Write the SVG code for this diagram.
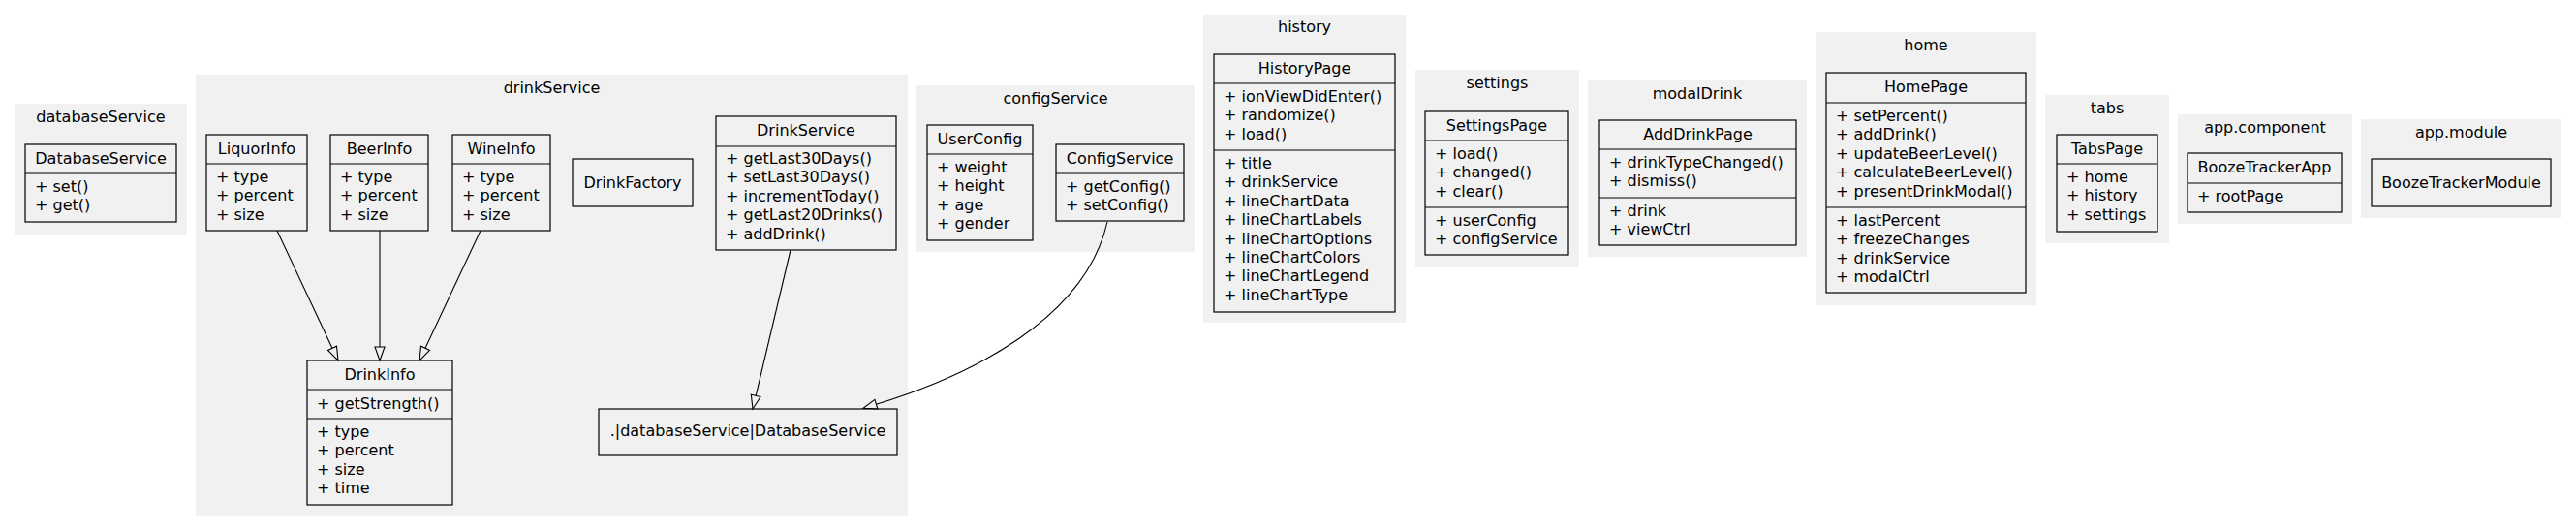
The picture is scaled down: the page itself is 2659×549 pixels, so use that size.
<svg xmlns="http://www.w3.org/2000/svg" width="2659" height="549" viewBox="0 0 2659 549">
<style>
.cl{fill:#f1f1f1;stroke:none}
.nd{fill:none;stroke:#000;stroke-width:1.2}
.sp{stroke:#000;stroke-width:1.2}
text{font-family:"DejaVu Sans","Liberation Sans",sans-serif;font-size:16px;fill:#000}
.c{text-anchor:middle}
.e{fill:none;stroke:#000;stroke-width:1.1}
</style>
<defs>
<marker id="tri" markerUnits="userSpaceOnUse" markerWidth="18" markerHeight="14" viewBox="-2 -7 18 14" refX="0" refY="0" orient="auto">
<path d="M0,-5 L14,0 L0,5 Z" fill="none" stroke="#000" stroke-width="1.1"/>
</marker>
</defs>
<rect width="2659" height="549" fill="#fff"/>

<g id="cluster_databaseService">
<rect class="cl" x="15" y="107" width="178" height="135"/>
<text class="c" x="104" y="126">databaseService</text>
</g>
<g id="cluster_drinkService">
<rect class="cl" x="202" y="77" width="735" height="456"/>
<text class="c" x="569.5" y="96">drinkService</text>
</g>
<g id="cluster_configService">
<rect class="cl" x="946" y="88" width="287" height="172"/>
<text class="c" x="1089.5" y="107">configService</text>
</g>
<g id="cluster_history">
<rect class="cl" x="1242" y="15" width="209" height="318"/>
<text class="c" x="1346.5" y="33">history</text>
</g>
<g id="cluster_settings">
<rect class="cl" x="1461" y="72" width="169" height="204"/>
<text class="c" x="1545.5" y="91">settings</text>
</g>
<g id="cluster_modalDrink">
<rect class="cl" x="1639" y="83" width="226" height="182"/>
<text class="c" x="1752" y="102">modalDrink</text>
</g>
<g id="cluster_home">
<rect class="cl" x="1874" y="33" width="228" height="282"/>
<text class="c" x="1988" y="52">home</text>
</g>
<g id="cluster_tabs">
<rect class="cl" x="2111" y="98" width="128" height="153"/>
<text class="c" x="2175" y="117">tabs</text>
</g>
<g id="cluster_appcomponent">
<rect class="cl" x="2248" y="118" width="180" height="113"/>
<text class="c" x="2338" y="137">app.component</text>
</g>
<g id="cluster_appmodule">
<rect class="cl" x="2437" y="123" width="207" height="102"/>
<text class="c" x="2540.5" y="142">app.module</text>
</g>

<g id="DatabaseService">
<rect class="nd" x="26" y="149" width="156" height="80"/>
<line class="sp" x1="26" y1="179" x2="182" y2="179"/>
<text class="c" x="104" y="168.5">DatabaseService</text>
<text x="36" y="198">+ set()</text>
<text x="36" y="217.4">+ get()</text>
</g>

<g id="LiquorInfo">
<rect class="nd" x="213" y="139" width="104" height="99"/>
<line class="sp" x1="213" y1="169" x2="317" y2="169"/>
<text class="c" x="265" y="158.5">LiquorInfo</text>
<text x="223" y="188">+ type</text>
<text x="223" y="207.4">+ percent</text>
<text x="223" y="226.8">+ size</text>
</g>
<g id="BeerInfo">
<rect class="nd" x="341" y="139" width="101" height="99"/>
<line class="sp" x1="341" y1="169" x2="442" y2="169"/>
<text class="c" x="391.5" y="158.5">BeerInfo</text>
<text x="351" y="188">+ type</text>
<text x="351" y="207.4">+ percent</text>
<text x="351" y="226.8">+ size</text>
</g>
<g id="WineInfo">
<rect class="nd" x="467" y="139" width="101" height="99"/>
<line class="sp" x1="467" y1="169" x2="568" y2="169"/>
<text class="c" x="517.5" y="158.5">WineInfo</text>
<text x="477" y="188">+ type</text>
<text x="477" y="207.4">+ percent</text>
<text x="477" y="226.8">+ size</text>
</g>
<g id="DrinkFactory">
<rect class="nd" x="591" y="164" width="124" height="49"/>
<text class="c" x="653" y="193.5">DrinkFactory</text>
</g>
<g id="DrinkService">
<rect class="nd" x="739" y="120" width="186" height="138"/>
<line class="sp" x1="739" y1="151" x2="925" y2="151"/>
<text class="c" x="832" y="140">DrinkService</text>
<text x="749" y="169">+ getLast30Days()</text>
<text x="749" y="188.4">+ setLast30Days()</text>
<text x="749" y="207.8">+ incrementToday()</text>
<text x="749" y="227.2">+ getLast20Drinks()</text>
<text x="749" y="246.6">+ addDrink()</text>
</g>
<g id="DrinkInfo">
<rect class="nd" x="317" y="372" width="150" height="149"/>
<line class="sp" x1="317" y1="402" x2="467" y2="402"/>
<line class="sp" x1="317" y1="432" x2="467" y2="432"/>
<text class="c" x="392" y="391.5">DrinkInfo</text>
<text x="327" y="421.5">+ getStrength()</text>
<text x="327" y="451">+ type</text>
<text x="327" y="470.4">+ percent</text>
<text x="327" y="489.8">+ size</text>
<text x="327" y="509.2">+ time</text>
</g>
<g id="DatabaseServiceRef">
<rect class="nd" x="618" y="422" width="308" height="48"/>
<text class="c" x="772" y="450">.|databaseService|DatabaseService</text>
</g>

<g id="UserConfig">
<rect class="nd" x="957" y="129" width="109" height="119"/>
<line class="sp" x1="957" y1="159" x2="1066" y2="159"/>
<text class="c" x="1011.5" y="148.5">UserConfig</text>
<text x="967" y="178">+ weight</text>
<text x="967" y="197.4">+ height</text>
<text x="967" y="216.8">+ age</text>
<text x="967" y="236.2">+ gender</text>
</g>
<g id="ConfigService">
<rect class="nd" x="1090" y="149" width="132" height="79"/>
<line class="sp" x1="1090" y1="179" x2="1222" y2="179"/>
<text class="c" x="1156" y="168.5">ConfigService</text>
<text x="1100" y="198">+ getConfig()</text>
<text x="1100" y="217.4">+ setConfig()</text>
</g>

<g id="HistoryPage">
<rect class="nd" x="1253" y="56" width="187" height="266"/>
<line class="sp" x1="1253" y1="86" x2="1440" y2="86"/>
<line class="sp" x1="1253" y1="155" x2="1440" y2="155"/>
<text class="c" x="1346.5" y="75.5">HistoryPage</text>
<text x="1263" y="105">+ ionViewDidEnter()</text>
<text x="1263" y="124.4">+ randomize()</text>
<text x="1263" y="143.8">+ load()</text>
<text x="1263" y="174">+ title</text>
<text x="1263" y="193.4">+ drinkService</text>
<text x="1263" y="212.8">+ lineChartData</text>
<text x="1263" y="232.2">+ lineChartLabels</text>
<text x="1263" y="251.6">+ lineChartOptions</text>
<text x="1263" y="271">+ lineChartColors</text>
<text x="1263" y="290.4">+ lineChartLegend</text>
<text x="1263" y="309.8">+ lineChartType</text>
</g>

<g id="SettingsPage">
<rect class="nd" x="1471" y="115" width="148" height="148"/>
<line class="sp" x1="1471" y1="145" x2="1619" y2="145"/>
<line class="sp" x1="1471" y1="214" x2="1619" y2="214"/>
<text class="c" x="1545" y="134.5">SettingsPage</text>
<text x="1481" y="164">+ load()</text>
<text x="1481" y="183.4">+ changed()</text>
<text x="1481" y="202.8">+ clear()</text>
<text x="1481" y="233">+ userConfig</text>
<text x="1481" y="252.4">+ configService</text>
</g>

<g id="AddDrinkPage">
<rect class="nd" x="1651" y="124" width="203" height="129"/>
<line class="sp" x1="1651" y1="154" x2="1854" y2="154"/>
<line class="sp" x1="1651" y1="204" x2="1854" y2="204"/>
<text class="c" x="1752.5" y="143.5">AddDrinkPage</text>
<text x="1661" y="173">+ drinkTypeChanged()</text>
<text x="1661" y="192.4">+ dismiss()</text>
<text x="1661" y="223">+ drink</text>
<text x="1661" y="242.4">+ viewCtrl</text>
</g>

<g id="HomePage">
<rect class="nd" x="1885" y="75" width="206" height="227"/>
<line class="sp" x1="1885" y1="106" x2="2091" y2="106"/>
<line class="sp" x1="1885" y1="214" x2="2091" y2="214"/>
<text class="c" x="1988" y="94.5">HomePage</text>
<text x="1895" y="125">+ setPercent()</text>
<text x="1895" y="144.4">+ addDrink()</text>
<text x="1895" y="163.8">+ updateBeerLevel()</text>
<text x="1895" y="183.2">+ calculateBeerLevel()</text>
<text x="1895" y="202.6">+ presentDrinkModal()</text>
<text x="1895" y="233">+ lastPercent</text>
<text x="1895" y="252.4">+ freezeChanges</text>
<text x="1895" y="271.8">+ drinkService</text>
<text x="1895" y="291.2">+ modalCtrl</text>
</g>

<g id="TabsPage">
<rect class="nd" x="2123" y="139" width="104" height="100"/>
<line class="sp" x1="2123" y1="169" x2="2227" y2="169"/>
<text class="c" x="2175" y="158.5">TabsPage</text>
<text x="2133" y="188">+ home</text>
<text x="2133" y="207.4">+ history</text>
<text x="2133" y="226.8">+ settings</text>
</g>

<g id="BoozeTrackerApp">
<rect class="nd" x="2258" y="158" width="159" height="61"/>
<line class="sp" x1="2258" y1="189" x2="2417" y2="189"/>
<text class="c" x="2337.5" y="177.5">BoozeTrackerApp</text>
<text x="2268" y="208">+ rootPage</text>
</g>

<g id="BoozeTrackerModule">
<rect class="nd" x="2448" y="164" width="185" height="49"/>
<text class="c" x="2540.5" y="193.5">BoozeTrackerModule</text>
</g>

<g id="connectors">
<path class="e" d="M286,238 L343,359.3" marker-end="url(#tri)"/>
<path class="e" d="M392,238 L392,358" marker-end="url(#tri)"/>
<path class="e" d="M496,238 L439,359.3" marker-end="url(#tri)"/>
<path class="e" d="M816,258 L780.2,408.4" marker-end="url(#tri)"/>
<path class="e" d="M1143,229 C1120,330 1000,388 904.4,417.2" marker-end="url(#tri)"/>
</g>
</svg>
